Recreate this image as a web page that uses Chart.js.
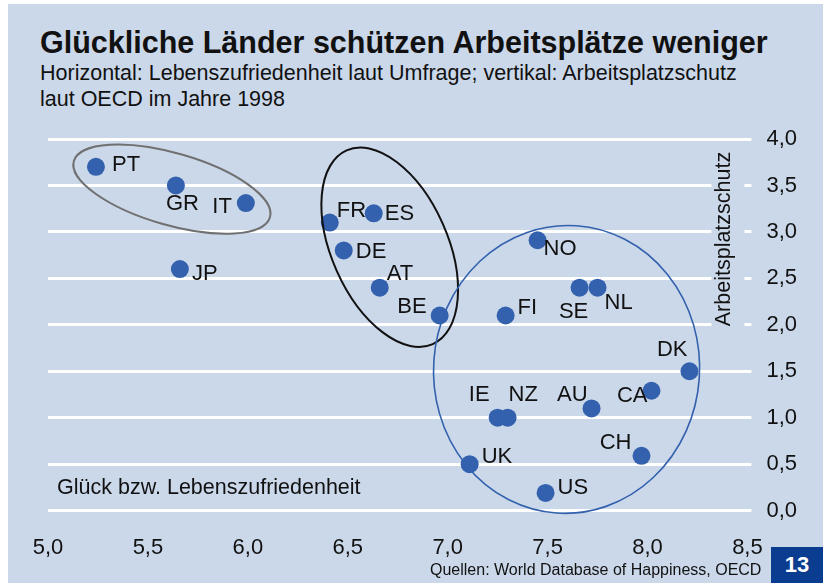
<!DOCTYPE html>
<html lang="de">
<head>
<meta charset="UTF-8" />
<title>Glückliche Länder schützen Arbeitsplätze weniger</title>
<script src="https://cdn.jsdelivr.net/npm/chart.js@4.4.1/dist/chart.umd.min.js"></script>
<style>
  html, body { margin: 0; padding: 0; background: #fff; }
  body {
    width: 823px; height: 585px; position: relative; overflow: hidden;
    font-family: "Liberation Sans", Arial, sans-serif; color: #111;
  }
  #panel { position: absolute; left: 8px; top: 4px; width: 815px; height: 579px; background: #cbd8ea; }
  #chartWrap { position: absolute; left: 0; top: 0; width: 823px; height: 585px; }
  h1 {
    position: absolute; left: 40px; top: 25px; margin: 0;
    font-size: 30.5px; font-weight: bold; line-height: 34px; white-space: nowrap;
  }
  .sub { position: absolute; left: 40px; top: 60px; font-size: 21.5px; line-height: 26px; white-space: nowrap; }
  .source { position: absolute; left: 430px; top: 561px; font-size: 16px; line-height: 18px; white-space: nowrap; }
  .pageNo {
    position: absolute; left: 771px; top: 547px; width: 52px; height: 36px;
    background: #0a3c8f; color: #fff; font-weight: bold; font-size: 22px;
    line-height: 36px; text-align: center;
  }
</style>
</head>
<body>
<div id="panel"></div>
<h1>Glückliche Länder schützen Arbeitsplätze weniger</h1>
<div class="sub">Horizontal: Lebenszufriedenheit laut Umfrage; vertikal: Arbeitsplatzschutz<br>laut OECD im Jahre 1998</div>
<div id="chartWrap"><canvas id="scatter" width="823" height="585"></canvas></div>
<div class="source">Quellen: World Database of Happiness, OECD</div>
<div class="pageNo">13</div>

<script>
// country codes, life satisfaction (x) and job protection (y)
const countries  = ["PT", "GR", "IT", "JP", "FR", "ES", "DE", "AT", "BE", "NO", "FI",
                    "SE", "NL", "DK", "CA", "AU", "IE", "NZ", "CH", "UK", "US"];
const happiness  = [5.24, 5.64, 5.99, 5.66, 6.41, 6.63, 6.48, 6.66, 6.96, 7.45, 7.29,
                    7.66, 7.75, 8.21, 8.02, 7.72, 7.25, 7.30, 7.97, 7.11, 7.49];
const protection = [3.70, 3.50, 3.31, 2.60, 3.10, 3.20, 2.80, 2.40, 2.10, 2.91, 2.10,
                    2.40, 2.40, 1.50, 1.29, 1.10, 1.00, 1.00, 0.59, 0.50, 0.19];

const xTicks = [5.0, 5.5, 6.0, 6.5, 7.0, 7.5, 8.0, 8.5];
const yTicks = [0.0, 0.5, 1.0, 1.5, 2.0, 2.5, 3.0, 3.5, 4.0];

const BG = "#cbd8ea";
const DOT = "#3361ad";
const FONT = "'Liberation Sans', Arial, sans-serif";

// label placement next to each dot: [dx, dy, align]
const labelPos = {
  PT: [16, -2, "left"],  GR: [-10, 18, "left"], IT: [-14, 4, "right"],
  JP: [12, 5, "left"],   FR: [7, -12, "left"],  ES: [11, 1, "left"],
  DE: [12, 1, "left"],   AT: [7, -14, "left"],  BE: [-13, -9, "right"],
  NO: [6, 9, "left"],    FI: [12, -8, "left"],  SE: [-6, 24, "center"],
  NL: [7, 15, "left"],   DK: [-2, -21, "right"], CA: [-4, 5, "right"],
  AU: [-4, -13, "right"], IE: [-8, -23, "right"], NZ: [1, -23, "left"],
  CH: [-10, -13, "right"], UK: [12, -7, "left"], US: [12, -5, "left"]
};

// group rings: centre in data units, radii in px, rotation in degrees
const rings = [
  { cx: 5.62, cy: 3.46, rx: 102, ry: 36, rot: 16, color: "#707070", width: 2 },
  { cx: 6.71, cy: 2.835, rx: 106, ry: 58, rot: 66, color: "#111111", width: 2 },
  { cx: 7.595, cy: 1.52, rx: 133, ry: 144, rot: 4, color: "#3361ad", width: 1.6 }
];

const fmt = v => Number(v).toFixed(1).replace(".", ",");

const overlay = {
  id: "overlay",
  beforeDatasetsDraw(chart) {
    const { ctx, chartArea } = chart;
    ctx.save();
    // y axis title sits on a patch of background that cuts the gridlines
    ctx.fillStyle = BG;
    ctx.fillRect(chartArea.right - 36, 146, 33, 185);
    ctx.translate(chartArea.right - 23, 239);
    ctx.rotate(-Math.PI / 2);
    ctx.fillStyle = "#111";
    ctx.font = "21.5px " + FONT;
    ctx.textAlign = "center";
    ctx.textBaseline = "middle";
    ctx.fillText("Arbeitsplatzschutz", 0, 0);
    ctx.restore();

    ctx.save();
    ctx.fillStyle = "#111";
    ctx.font = "21.5px " + FONT;
    ctx.textBaseline = "middle";
    ctx.fillText("Glück bzw. Lebenszufriedenheit", chartArea.left + 9, chartArea.bottom - 23);
    ctx.restore();
  },
  afterDatasetsDraw(chart) {
    const { ctx, scales: { x, y } } = chart;
    ctx.save();
    rings.forEach(r => {
      ctx.beginPath();
      ctx.ellipse(x.getPixelForValue(r.cx), y.getPixelForValue(r.cy), r.rx, r.ry,
                  r.rot * Math.PI / 180, 0, 2 * Math.PI);
      ctx.strokeStyle = r.color;
      ctx.lineWidth = r.width;
      ctx.stroke();
    });

    ctx.fillStyle = "#111";
    ctx.font = "22px " + FONT;
    ctx.textBaseline = "middle";
    countries.forEach((c, i) => {
      const p = labelPos[c];
      ctx.textAlign = p[2];
      ctx.fillText(c, x.getPixelForValue(happiness[i]) + p[0], y.getPixelForValue(protection[i]) + p[1]);
    });
    ctx.restore();
  }
};

new Chart(document.getElementById("scatter"), {
  type: "scatter",
  data: {
    datasets: [{
      data: countries.map((c, i) => ({ x: happiness[i], y: protection[i] })),
      backgroundColor: DOT,
      borderWidth: 0,
      pointRadius: 9,
      pointHoverRadius: 9
    }]
  },
  options: {
    responsive: false,
    animation: false,
    layout: { padding: { left: 48, right: 11, top: 139, bottom: 0 } },
    plugins: { legend: { display: false }, tooltip: { enabled: false } },
    scales: {
      x: {
        min: 5, max: 8.5,
        afterBuildTicks: s => { s.ticks = xTicks.map(v => ({ value: v })); },
        grid: { display: false, drawTicks: false },
        border: { display: false },
        ticks: {
          padding: 24, color: "#111",
          font: { family: FONT, size: 22 },
          callback: fmt
        }
      },
      y: {
        position: "right",
        min: 0, max: 4,
        afterBuildTicks: s => { s.ticks = yTicks.map(v => ({ value: v })); },
        grid: { color: "#ffffff", lineWidth: 3, drawTicks: true, tickLength: 4 },
        border: { display: false },
        ticks: {
          padding: 15, color: "#111",
          font: { family: FONT, size: 22 },
          callback: fmt
        }
      }
    }
  },
  plugins: [overlay]
});
</script>
</body>
</html>
